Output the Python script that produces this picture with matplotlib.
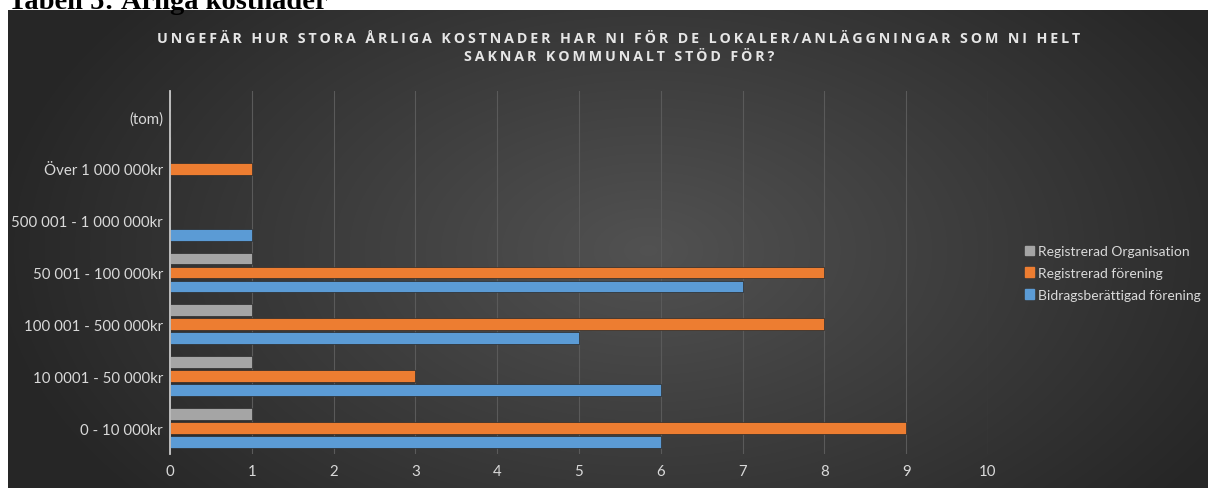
import numpy as np
import matplotlib.pyplot as plt
from matplotlib.patches import Patch

categories = ["0 - 10 000kr", "10 0001 - 50 000kr", "100 001 - 500 000kr",
              "50 001 - 100 000kr", "500 001 - 1 000 000kr", "Över 1 000 000kr", "(tom)"]
organisation = [1, 1, 1, 1, 0, 0, 0]
forening = [9, 3, 8, 8, 0, 1, 0]
bidrag = [6, 6, 5, 7, 1, 0, 0]
xticks = list(range(0, 11))

title_lines = ["UNGEFÄR HUR STORA ÅRLIGA KOSTNADER HAR NI FÖR DE LOKALER/ANLÄGGNINGAR SOM NI HELT",
               "SAKNAR KOMMUNALT STÖD FÖR?"]

c_gray = "#a5a5a5"
c_orange = "#ed7d31"
c_blue = "#5b9bd5"
txt = "#d9d9d9"

plt.rcParams['font.family'] = ['Lato', 'DejaVu Sans']

W, H = 1208, 489
fig = plt.figure(figsize=(W / 100, H / 100), dpi=100, facecolor="white")

# dark radial gradient background
bg = fig.add_axes([8 / W, 0, (W - 8) / W, (H - 11) / H])
yy, xx = np.mgrid[0:478, 0:1200]
d = np.sqrt(((xx - 640) / 700.0) ** 2 + ((yy - 240) / 420.0) ** 2)
shade = np.clip(0.32 - 0.18 * d, 0.15, 0.32)
img = np.dstack([shade, shade, shade])
bg.imshow(img, aspect="auto", extent=[0, 1, 0, 1], interpolation="bilinear")
bg.set_axis_off()

fig.text(8 / W, 1 - 9 / H, "Tabell 5: Årliga kostnader", family="Liberation Serif",
         weight="bold", fontsize=20.5, color="black", va="baseline", ha="left")

ax = fig.add_axes([170 / W, 1 - 455 / H, 818 / W, 363 / H])
ax.set_facecolor("none")

y = np.arange(len(categories))
h = 0.23
off = 0.27
ax.barh(y + off, organisation, height=h, color=c_gray, edgecolor="#2a2a2a", linewidth=0.5, zorder=3)
ax.barh(y, forening, height=h, color=c_orange, edgecolor="#2a2a2a", linewidth=0.5, zorder=3)
ax.barh(y - off, bidrag, height=h, color=c_blue, edgecolor="#2a2a2a", linewidth=0.5, zorder=3)

ax.set_xlim(0, 10)
ax.set_ylim(-0.5, len(categories) - 0.5)
ax.set_xticks(xticks)
ax.set_yticks(y)
ax.set_yticklabels(categories)
ax.grid(axis="x", color="#5a5a5a", linewidth=0.8, zorder=0)
ax.tick_params(axis="both", length=0, colors=txt, labelsize=10.8)
ax.tick_params(axis="x", pad=7)
ax.tick_params(axis="y", pad=5)
for s in ["top", "right", "bottom"]:
    ax.spines[s].set_visible(False)
ax.spines["left"].set_color("#c8c8c8")
ax.spines["left"].set_linewidth(1.3)
ax.spines["left"].set_zorder(4)

handles = [Patch(color=c_gray, label="Registrerad Organisation"),
           Patch(color=c_orange, label="Registrerad förening"),
           Patch(color=c_blue, label="Bidragsberättigad förening")]
fig.legend(handles=handles, loc="center left", bbox_to_anchor=(1012 / W, 1 - 274 / H),
           frameon=False, fontsize=10, handlelength=0.7, handleheight=0.7,
           handletextpad=0.3, labelspacing=0.7, labelcolor=txt)

# title with letter spacing (thin spaces between letters)
spaced = "\n".join("\u2009".join(line) for line in title_lines)
fig.text(619 / W, 1 - 48 / H, spaced, ha="center", va="center", color="#e6e6e6",
         family=["Open Sans", "DejaVu Sans"], weight="bold", fontsize=10.3,
         linespacing=1.45)

fig.savefig("out.png", dpi=100, facecolor="white")
